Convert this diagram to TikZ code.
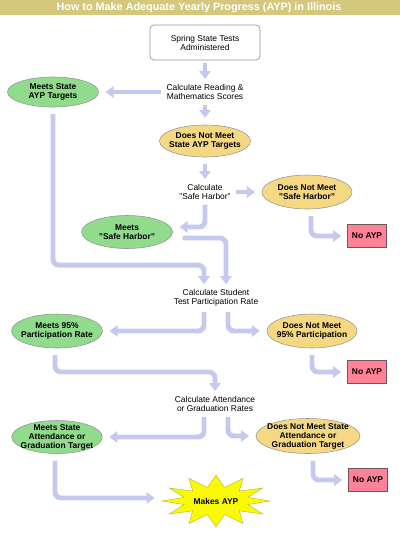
\documentclass[tikz,border=0pt]{standalone}
\usepackage{fontspec}
\setmainfont{Liberation Sans}
\usepackage{tikz}
\usetikzlibrary{positioning, calc, arrows.meta, shapes.geometric}

\definecolor{barc}{RGB}{212,200,124}
\definecolor{flowc}{RGB}{197,201,240}
\definecolor{yesc}{RGB}{144,219,140}
\definecolor{noc}{RGB}{245,216,132}
\definecolor{failc}{RGB}{255,130,150}
\definecolor{edgec}{RGB}{150,150,150}
\definecolor{burstc}{RGB}{250,250,0}

\begin{document}
\begin{tikzpicture}[
  x=0.025cm, y=-0.025cm,
  every node/.style={font=\fontsize{6}{6.4}\selectfont, align=center},
  calcnode/.style={inner sep=1.5pt},
  startbox/.style={draw=edgec, fill=white, rounded corners=0.1cm, line width=0.5pt,
    minimum width=2.75cm, minimum height=0.875cm},
  yesoval/.style={ellipse, draw=edgec, fill=yesc, line width=0.4pt, inner sep=-3pt,
    outer sep=0.1cm, font=\fontsize{6}{6.4}\selectfont\bfseries},
  nooval/.style={yesoval, fill=noc},
  failbox/.style={draw=edgec!70!failc!60!black, fill=failc, line width=0.4pt,
    minimum width=0.975cm, minimum height=0.575cm, outer sep=0.075cm,
    font=\fontsize{6}{6.4}\selectfont\bfseries},
  flow/.style={draw=flowc, line width=3.5pt, rounded corners=0.15cm,
    -{Triangle[width=0.28cm,length=0.2cm]}, shorten <=0.075cm, shorten >=0.075cm},
  scale=1.0
]
  \useasboundingbox (0,0) rectangle (400,535);

  % title bar
  \fill[barc] (0,0) rectangle (400,15);
  \node[text=white, font=\fontsize{7.7}{8}\selectfont\bfseries] (title) at (199,7.5)
    {How to Make Adequate Yearly Progress (AYP) in Illinois};

  \node[startbox] (start) at (205,42.5) {Spring State Tests\\Administered};
  \node[calcnode] (calcRM) at (205,92) {Calculate Reading \&\\Mathematics Scores};
  \node[yesoval, minimum width=2.275cm, minimum height=0.75cm] (metAYP) at (53,92)
    {Meets State\\AYP Targets};
  \node[nooval, minimum width=2.275cm, minimum height=0.8cm] (notAYP) at (205,141)
    {Does Not Meet\\State AYP Targets};
  \node[calcnode] (calcSH) at (205,192) {Calculate\\"Safe Harbor"};
  \node[nooval, minimum width=2.25cm, minimum height=0.85cm] (notSH) at (307,192)
    {Does Not Meet\\"Safe Harbor"};
  \node[yesoval, minimum width=2.275cm, minimum height=0.825cm] (metSH) at (127,232)
    {Meets\\"Safe Harbor"};
  \node[failbox] (noAYP1) at (367,236) {No AYP};

  \node[calcnode] (calcTP) at (216,298) {Calculate Student\\Test Participation Rate};
  \node[yesoval, minimum width=2.275cm, minimum height=0.85cm] (met95) at (57,331)
    {Meets 95\%\\Participation Rate};
  \node[nooval, minimum width=2.25cm, minimum height=0.85cm] (not95) at (312,331)
    {Does Not Meet\\95\% Participation};
  \node[failbox] (noAYP2) at (367,372) {No AYP};

  \node[calcnode] (calcAtt) at (215,404) {Calculate Attendance\\or Graduation Rates};
  \node[yesoval, minimum width=2.25cm, minimum height=0.825cm] (metAtt) at (57,437)
    {Meets State\\Attendance or\\Graduation Target};
  \node[nooval, minimum width=2.6cm, minimum height=0.875cm] (notAtt) at (308,436)
    {Does Not Meet State\\Attendance or\\Graduation Target};
  \node[failbox] (noAYP3) at (368,480) {No AYP};

  % star
  \coordinate (burst) at (216,501);
  \draw[fill=burstc, draw=yellow!70!black, line width=0.3pt, line join=miter]
    ($(burst)+(90:54 and 26)$)
    \foreach \a in {0,30,...,330} {
      -- ($(burst)+({105+\a}:33 and 14)$) -- ($(burst)+({120+\a}:54 and 26)$)
    } -- cycle;
  \node[minimum width=2.9cm, font=\fontsize{6}{6.4}\selectfont\bfseries] (makes) at (burst) {Makes AYP};

  % connectors
  \draw[flow] (start) -- (calcRM);
  \draw[flow] (calcRM.west) -- (metAYP.east);
  \draw[flow] (calcRM) -- (notAYP);
  \draw[flow] (notAYP) -- (calcSH);
  \draw[flow] (calcSH.east) -- (notSH.west);
  \draw[flow] (calcSH.south) |- ($(metSH.east)+(0,-5)$);
  \draw[flow] ($(notSH.south)+(4,0)$) |- (noAYP1.west);
  \draw[flow] ($(metSH.east)+(3,6)$) -| ($(calcTP.north)+(10,0)$);
  \draw[flow] (metAYP.south) |- ($(calcTP.north)+(-12,-22)$) -- ($(calcTP.north)+(-12,0)$);

  \draw[flow] ($(calcTP.south)+(-12,0)$) |- (met95.east);
  \draw[flow] ($(calcTP.south)+(12,0)$) |- (not95.west);
  \draw[flow] (not95.south) |- (noAYP2.west);
  \draw[flow] ($(met95.south)+(-2,0)$) |- ($(calcAtt.north)+(0,-22)$) -- (calcAtt.north);

  \draw[flow] ($(calcAtt.south)+(-11,0)$) |- (metAtt.east);
  \draw[flow] ($(calcAtt.south)+(13,0)$) |- (notAtt.west);
  \draw[flow] ($(notAtt.south)+(5,0)$) |- (noAYP3.west);
  \draw[flow] ($(metAtt.south)+(-2,0)$) |- ($(makes.west)+(0,-3)$);
\end{tikzpicture}
\end{document}
